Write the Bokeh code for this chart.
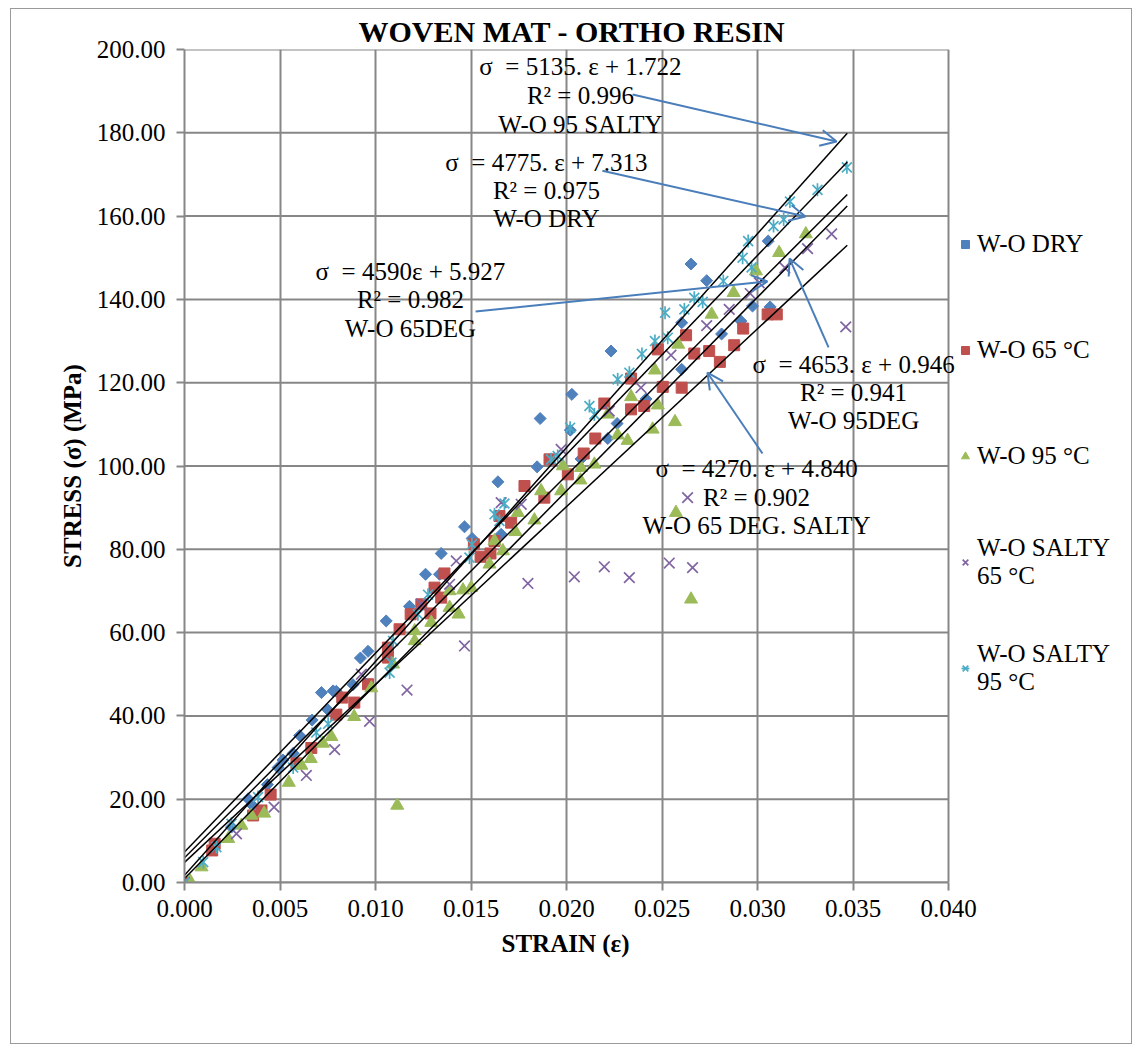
import numpy as np
from bokeh.plotting import figure
from bokeh.models import (Range1d, NumeralTickFormatter, FixedTicker, Label, Arrow, OpenHead,
                          Legend, LegendItem, Title)
from bokeh.embed import file_html
from bokeh.resources import INLINE

# ---------------- data ----------------
dry_strain = [0.0, 0.00246, 0.00333, 0.00356, 0.00434, 0.0049, 0.00516, 0.00569, 0.00603, 0.00668,
              0.00717, 0.00752, 0.00778, 0.00795, 0.00882, 0.00921, 0.00961, 0.01056, 0.01178, 0.01262,
              0.01335, 0.01344, 0.01466, 0.01506, 0.01658, 0.01641, 0.01846, 0.01862, 0.0202, 0.02028,
              0.02076, 0.02216, 0.02233, 0.02265, 0.02416, 0.02603, 0.02603, 0.02652, 0.02734, 0.02812,
              0.02913, 0.02974, 0.03066, 0.03056]
dry_stress = [0.0, 13.3, 20.1, 18.5, 23.5, 27.6, 29.4, 31.0, 35.3, 39.0,
              45.6, 41.4, 46.0, 45.9, 47.5, 53.9, 55.5, 62.8, 66.3, 74.0,
              74.0, 79.0, 85.4, 82.6, 83.6, 96.2, 99.8, 111.4, 108.6, 117.2,
              101.7, 106.6, 127.6, 110.2, 116.1, 123.2, 134.4, 148.5, 144.5, 131.7,
              134.8, 138.4, 138.2, 154.0]

c65_strain = [0.0, 0.00145, 0.00158, 0.00359, 0.00403, 0.00451, 0.00586, 0.00664, 0.00795, 0.00826,
              0.00889, 0.00961, 0.01065, 0.01065, 0.01126, 0.01184, 0.0124, 0.01288, 0.01309, 0.01344,
              0.01361, 0.01515, 0.0155, 0.01602, 0.01623, 0.01649, 0.0171, 0.0178, 0.01884, 0.01911,
              0.02007, 0.0209, 0.02151, 0.02198, 0.02338, 0.02338, 0.02407, 0.02478, 0.02504, 0.02603,
              0.02626, 0.02669, 0.02747, 0.02803, 0.02878, 0.02925, 0.03053, 0.03101]
c65_stress = [0.0, 7.7, 9.3, 16.1, 17.3, 21.1, 28.6, 32.3, 40.3, 44.4,
              43.2, 47.6, 54.0, 56.4, 60.8, 64.4, 66.8, 64.6, 70.8, 68.4,
              74.2, 81.2, 78.2, 79.0, 82.0, 88.0, 86.4, 95.2, 92.4, 101.6,
              98.0, 103.0, 106.6, 115.0, 113.6, 121.0, 114.4, 128.0, 119.0, 118.8,
              131.4, 127.0, 127.6, 125.0, 129.0, 133.0, 136.4, 136.4]

c95_strain = [0.0003, 0.00089, 0.00229, 0.00298, 0.0035, 0.00417, 0.00546, 0.00612, 0.00661, 0.00725,
              0.00769, 0.00888, 0.00978, 0.01092, 0.01114, 0.01205, 0.01205, 0.01292, 0.01388, 0.01435,
              0.01388, 0.01458, 0.01501, 0.01597, 0.01667, 0.01623, 0.01733, 0.01745, 0.01832, 0.01867,
              0.01972, 0.01981, 0.02073, 0.02076, 0.02146, 0.02216, 0.02268, 0.0232, 0.02338, 0.02451,
              0.02463, 0.02478, 0.02568, 0.02573, 0.02585, 0.02652, 0.0276, 0.02875, 0.02992, 0.03113,
              0.03253]
c95_stress = [0.3, 3.7, 10.5, 13.7, 16.1, 16.6, 24.0, 28.1, 29.7, 33.4,
              35.0, 39.8, 46.7, 52.4, 18.5, 58.0, 60.4, 62.4, 66.0, 64.4,
              70.0, 70.2, 70.8, 76.4, 79.6, 82.0, 84.2, 88.8, 87.0, 94.0,
              94.0, 100.0, 96.6, 99.6, 100.4, 112.4, 107.4, 106.1, 116.6, 108.8,
              123.0, 114.6, 110.6, 88.8, 129.2, 68.0, 136.4, 141.6, 146.8, 151.2,
              155.7]

s65_strain = [0.0, 0.00272, 0.00469, 0.00638, 0.00786, 0.00926, 0.00969, 0.01165, 0.0124, 0.01388,
              0.01423, 0.01466, 0.01658, 0.01763, 0.01798, 0.01972, 0.02041, 0.02198, 0.02224, 0.02329,
              0.0239, 0.02538, 0.02547, 0.02634, 0.0266, 0.02734, 0.02852, 0.02962, 0.03009, 0.03143,
              0.03262, 0.03388, 0.03462]
s65_stress = [0.0, 11.7, 18.1, 25.7, 31.9, 50.0, 38.7, 46.2, 66.8, 71.6,
              77.2, 56.8, 91.2, 90.8, 71.8, 104.0, 73.4, 75.8, 113.2, 73.2,
              118.8, 76.7, 126.6, 92.4, 75.6, 133.7, 137.6, 141.4, 144.0, 147.6,
              152.2, 155.7, 133.4]

s95_strain = [0.0, 0.00098, 0.00167, 0.00246, 0.00385, 0.00569, 0.0069, 0.00752, 0.01074, 0.01083,
              0.01092, 0.01222, 0.01275, 0.01492, 0.01505, 0.01623, 0.01649, 0.01675, 0.01919, 0.01954,
              0.02019, 0.0212, 0.02146, 0.02268, 0.02329, 0.02395, 0.02463, 0.0253, 0.02516, 0.02617,
              0.02669, 0.02713, 0.02821, 0.02922, 0.02951, 0.02969, 0.03084, 0.03137, 0.0317, 0.03314,
              0.03468]
s95_stress = [0.0, 4.9, 8.5, 14.1, 20.5, 27.6, 36.0, 38.1, 50.4, 52.8,
              58.0, 64.4, 69.1, 78.0, 81.2, 88.4, 86.8, 91.0, 101.6, 102.4,
              109.2, 114.4, 112.4, 120.8, 122.4, 126.9, 130.0, 130.8, 136.8, 137.6,
              140.4, 139.4, 144.4, 150.0, 154.0, 147.7, 157.6, 159.2, 163.5, 166.3,
              171.7]

series_names = ["W-O DRY", "W-O 65 °C", "W-O 95 °C", "W-O SALTY\n65 °C", "W-O SALTY\n95 °C"]

# linear trendlines (from the chart's equations)
trend_slope = [5135.0, 4775.0, 4590.0, 4653.0, 4270.0]
trend_intercept = [1.722, 7.313, 5.927, 0.946, 4.840]
trend_xmax = [0.0347, 0.0347, 0.0347, 0.0347, 0.0347]

annotations = [
    ["σ\u00a0 = 5135. ε + 1.722", "R² = 0.996", "W-O 95 SALTY"],
    ["σ\u00a0 = 4775. ε + 7.313", "R² = 0.975", "W-O DRY"],
    ["σ\u00a0 = 4590ε + 5.927", "R² = 0.982", "W-O 65DEG"],
    ["σ\u00a0 = 4653. ε + 0.946", "R² = 0.941", "W-O 95DEG"],
    ["σ\u00a0 = 4270. ε + 4.840", "R² = 0.902", "W-O 65 DEG. SALTY"],
]

x_ticks = [0.000, 0.005, 0.010, 0.015, 0.020, 0.025, 0.030, 0.035, 0.040]
y_ticks = [0, 20, 40, 60, 80, 100, 120, 140, 160, 180, 200]

# ---------------- figure ----------------
FONT = "Liberation Serif"
FS = "25px"
GRID = "#878787"
BLUE, RED, GREEN, PURPLE, CYAN = "#4F81BD", "#C0504D", "#9BBB59", "#8064A2", "#4BACC6"
ARROW = "#4A7EBB"

X_MAX = x_ticks[-1]
PLOT_W = 764            # pixel width of the 0 .. 0.040 axis span
FRAME_W = 1122 - 173    # frame extends right to hold the legend
X_VIEW = X_MAX * FRAME_W / PLOT_W

p = figure(width=1122, height=1036, output_backend="svg", toolbar_location=None,
           x_range=Range1d(0, X_VIEW), y_range=Range1d(0, 200),
           min_border_left=173, min_border_right=0, min_border_top=40, min_border_bottom=163,
           background_fill_color="white", border_fill_color="white")
p.margin = (8, 0, 0, 10)
p.styles = {"border": "1px solid #9a9a9a"}

p.title.text = "WOVEN MAT - ORTHO RESIN"
p.title.text_font = FONT
p.title.text_font_size = "30px"
p.title.text_font_style = "bold"
p.title.text_color = "black"
p.title.align = "left"
p.title.offset = 174
p.title.standoff = 4

p.outline_line_color = None

for ax in (p.xaxis[0], p.yaxis[0]):
    ax.axis_line_color = GRID
    ax.axis_line_width = 2
    ax.major_tick_line_color = GRID
    ax.major_tick_line_width = 2
    ax.major_tick_out = 8
    ax.major_tick_in = 0
    ax.minor_tick_line_color = None
    ax.major_label_text_font = FONT
    ax.major_label_text_font_size = FS
    ax.major_label_text_color = "black"
    ax.axis_label_text_font = FONT
    ax.axis_label_text_font_size = FS
    ax.axis_label_text_font_style = "bold"
    ax.axis_label_text_color = "black"

p.xaxis.bounds = (0, X_MAX)
p.xaxis.ticker = FixedTicker(ticks=x_ticks)
p.yaxis.ticker = FixedTicker(ticks=y_ticks)
p.xaxis.formatter = NumeralTickFormatter(format="0.000")
p.yaxis.formatter = NumeralTickFormatter(format="0.00")
p.xaxis.major_label_standoff = 9
p.yaxis.major_label_standoff = 11

p.yaxis.axis_label = "STRESS (σ) (MPa)"
p.yaxis.axis_label_standoff = 8

# x-axis title, placed under the 0 .. 0.040 span
p.add_layout(Title(text="STRAIN (ε)", align="left", offset=317, standoff=16,
                   text_font=FONT, text_font_size=FS, text_font_style="bold",
                   text_color="black"), "below")

p.xgrid.ticker = FixedTicker(ticks=x_ticks)
p.xgrid.grid_line_color = GRID
p.xgrid.grid_line_width = 2
p.ygrid.visible = False
# horizontal gridlines limited to the axis span
p.segment(x0=[0.0] * len(y_ticks), x1=[X_MAX] * len(y_ticks), y0=y_ticks, y1=y_ticks,
          line_color=GRID, line_width=2)

# series
r_dry = p.scatter(dry_strain, dry_stress, marker="square", angle=np.pi / 4, size=8.5,
                  fill_color=BLUE, line_color=BLUE)
r_65 = p.scatter(c65_strain, c65_stress, marker="square", size=11,
                 fill_color=RED, line_color=RED)
r_95 = p.scatter(c95_strain, c95_stress, marker="triangle", size=13,
                 fill_color=GREEN, line_color=GREEN)
r_s65 = p.scatter(s65_strain, s65_stress, marker="x", size=15,
                  line_color=PURPLE, line_width=1.7)
r_s95a = p.scatter(s95_strain, s95_stress, marker="x", size=14,
                   line_color=CYAN, line_width=1.7)
r_s95b = p.scatter(s95_strain, s95_stress, marker="dash", angle=np.pi / 2, size=13,
                   line_color=CYAN, line_width=1.7)

# trendlines
for m, b, xm in zip(trend_slope, trend_intercept, trend_xmax):
    p.line([0.0, xm], [b, m * xm + b], line_color="black", line_width=1.5)

# annotations (equation boxes)
ann_pos = [(0.02073, [195.9, 189.0, 182.0]),
           (0.01895, [172.9, 166.1, 159.4]),
           (0.01183, [146.7, 140.0, 133.0]),
           (0.03503, [124.4, 117.6, 110.9]),
           (0.02995, [99.4, 92.4, 85.7])]
for lines, (ax_, ys) in zip(annotations, ann_pos):
    for t, yy in zip(lines, ys):
        p.add_layout(Label(x=ax_, y=yy, text=t, text_align="center", text_baseline="middle",
                           text_font=FONT, text_font_size=FS, text_color="black"))

arrows = [((0.02346, 189.2), (0.03414, 177.9)),
          ((0.02188, 170.9), (0.03251, 159.9)),
          ((0.01524, 137.1), (0.03052, 144.3)),
          ((0.03372, 128.5), (0.03168, 149.8)),
          ((0.03026, 103.0), (0.02738, 122.4))]
for (xs, ys), (xe, ye) in arrows:
    p.add_layout(Arrow(x_start=xs, y_start=ys, x_end=xe, y_end=ye,
                       line_color=ARROW, line_width=2,
                       end=OpenHead(size=16, line_color=ARROW, line_width=2)))

legend = Legend(items=[LegendItem(label=series_names[0], renderers=[r_dry]),
                       LegendItem(label=series_names[1], renderers=[r_65]),
                       LegendItem(label=series_names[2], renderers=[r_95]),
                       LegendItem(label=series_names[3], renderers=[r_s65]),
                       LegendItem(label=series_names[4], renderers=[r_s95a, r_s95b])],
                location=(771, 185), label_text_font=FONT, label_text_font_size=FS,
                label_text_color="black",
                glyph_width=20, glyph_height=20, label_standoff=2, label_height=58,
                spacing=48, padding=0, margin=0, border_line_alpha=0,
                background_fill_alpha=0)
p.add_layout(legend, "center")

open("out.html", "w").write(file_html(p, INLINE))
